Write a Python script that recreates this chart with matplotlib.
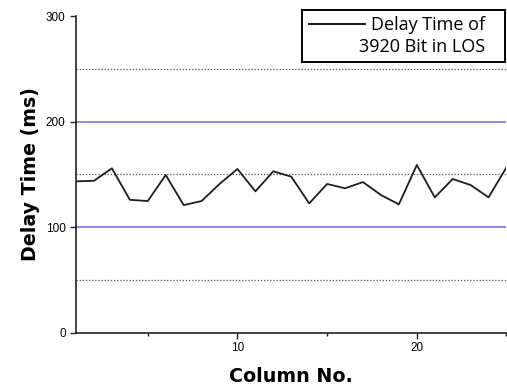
import matplotlib
matplotlib.use('Agg')
import matplotlib.pyplot as plt
from matplotlib.ticker import MultipleLocator
from matplotlib.legend_handler import HandlerLine2D
from matplotlib.lines import Line2D

# 3920 bit, LOS 지연시간 (ms)
column_no = list(range(1, 26))
delay_ms = [143.5, 144, 155.8, 126, 124.8, 149.5, 121, 124.8, 141, 155.2,
            134, 153, 147.9, 122.6, 141, 136.9, 142.8, 130.5, 121.7, 159,
            128.3, 145.7, 140, 128.3, 156.8]
major_lines = [100, 200]
minor_lines = [50, 150, 250]
legend_label = 'Delay Time of   \n3920 Bit in LOS   '


class TopLine(HandlerLine2D):
    # 범례 선을 첫 줄 높이로 올림
    def create_artists(self, legend, orig_handle, xdescent, ydescent,
                       width, height, fontsize, trans):
        arts = super().create_artists(legend, orig_handle, xdescent, ydescent,
                                      width, height, fontsize, trans)
        for a in arts:
            if isinstance(a, Line2D):
                a.set_ydata([y + fontsize * 0.7 for y in a.get_ydata()])
        return arts


fig = plt.figure(figsize=(5.07, 3.86), dpi=100)
ax = fig.add_axes([0.150, 0.138, 0.849, 0.820])

for v in major_lines:
    ax.axhline(v, color='#8f86e6', lw=1.4, zorder=1)
for v in minor_lines:
    ax.axhline(v, color='#555555', lw=0.9, ls=(0, (1, 1.5)), zorder=1)

ax.plot(column_no, delay_ms, color='#1e1e1e', lw=1.3, label=legend_label, zorder=3)

ax.set_xlim(1, 25)
ax.set_ylim(0, 300)
ax.xaxis.set_major_locator(MultipleLocator(10))
ax.xaxis.set_minor_locator(MultipleLocator(5))
ax.yaxis.set_major_locator(MultipleLocator(100))

for s in ['top', 'right']:
    ax.spines[s].set_visible(False)
for s in ['left', 'bottom']:
    ax.spines[s].set_linewidth(1.2)
    ax.spines[s].set_color('#222222')

ax.tick_params(which='major', direction='out', length=4, width=1, labelsize=8.5,
               color='#222222')
ax.tick_params(axis='y', pad=3.5)
ax.tick_params(axis='x', pad=3)
ax.tick_params(axis='x', which='minor', direction='out', length=2.5, width=1,
               color='#222222')
for lab in ax.get_xticklabels() + ax.get_yticklabels():
    lab.set_fontfamily('Liberation Sans')

ax.set_xlabel('Column No.', fontsize=13.7, fontweight='bold',
              family='DejaVu Sans', labelpad=9)
ax.set_ylabel('Delay Time (ms)', fontsize=13.7, fontweight='bold',
              family='DejaVu Sans', labelpad=4)

leg = ax.legend(loc='upper right', bbox_to_anchor=(0.9975, 1.02),
                prop={'family': 'Open Sans', 'size': 13},
                frameon=True, fancybox=False, edgecolor='black',
                handlelength=3.1, handletextpad=-0.3, borderpad=0.35,
                borderaxespad=0, labelspacing=0.3,
                handler_map={Line2D: TopLine()})
leg.get_frame().set_linewidth(1.4)
leg.get_frame().set_alpha(1)
for t in leg.get_texts():
    t.set_multialignment('right')
    t.set_linespacing(1.25)
for ln in leg.get_lines():
    ln.set_linewidth(1.5)

fig.savefig('out.png', dpi=100)
